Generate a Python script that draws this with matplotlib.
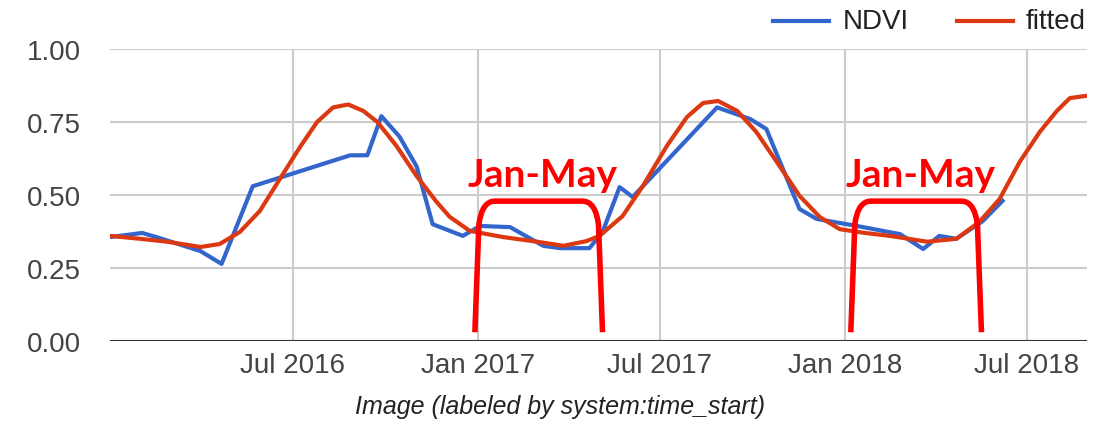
import numpy as np
import pandas as pd
import matplotlib
matplotlib.use("Agg")
import matplotlib.pyplot as plt
import matplotlib.dates as mdates
from matplotlib.path import Path
from matplotlib.patches import PathPatch
from matplotlib.lines import Line2D

# observed NDVI (cloud-free images only)
ndvi_dates = ["2016-01-01", "2016-02-02", "2016-02-17", "2016-03-31", "2016-04-21",
              "2016-05-22", "2016-08-27", "2016-09-13", "2016-09-27", "2016-10-15",
              "2016-11-01", "2016-11-17", "2016-12-17", "2017-01-03", "2017-02-02",
              "2017-03-07", "2017-03-24", "2017-04-22", "2017-05-05", "2017-05-22",
              "2017-06-04", "2017-08-27", "2017-09-29", "2017-10-15", "2017-11-17",
              "2017-12-04", "2018-01-13", "2018-02-25", "2018-03-20", "2018-04-05",
              "2018-04-22", "2018-05-18", "2018-06-07"]
ndvi_values = [0.356, 0.370, 0.355, 0.308, 0.264,
               0.530, 0.636, 0.636, 0.770, 0.700,
               0.598, 0.400, 0.360, 0.394, 0.390,
               0.326, 0.318, 0.318, 0.373, 0.527,
               0.493, 0.800, 0.760, 0.726, 0.452,
               0.418, 0.394, 0.366, 0.315, 0.360,
               0.350, 0.410, 0.480]

# harmonic fit
fit_dates = ["2016-01-01", "2016-01-31", "2016-02-27", "2016-03-31", "2016-04-19",
             "2016-05-09", "2016-05-29", "2016-06-18", "2016-07-08", "2016-07-25",
             "2016-08-10", "2016-08-25", "2016-09-09", "2016-09-23", "2016-10-12",
             "2016-11-01", "2016-11-21", "2016-12-04", "2016-12-24", "2017-01-26",
             "2017-03-01", "2017-03-27", "2017-04-19", "2017-05-02", "2017-05-25",
             "2017-06-14", "2017-07-08", "2017-07-28", "2017-08-13", "2017-08-28",
             "2017-09-16", "2017-10-05", "2017-10-28", "2017-11-17", "2017-12-07",
             "2017-12-27", "2018-01-21", "2018-02-15", "2018-03-24", "2018-04-22",
             "2018-05-15", "2018-06-04", "2018-06-24", "2018-07-14", "2018-07-31",
             "2018-08-13", "2018-08-28"]
fit_values = [0.360, 0.350, 0.340, 0.322, 0.332,
              0.373, 0.445, 0.555, 0.664, 0.750,
              0.800, 0.810, 0.788, 0.750, 0.668,
              0.565, 0.476, 0.425, 0.377, 0.356,
              0.340, 0.326, 0.342, 0.360, 0.428,
              0.530, 0.668, 0.767, 0.815, 0.822,
              0.788, 0.716, 0.600, 0.497, 0.425,
              0.383, 0.370, 0.360, 0.340, 0.350,
              0.408, 0.486, 0.613, 0.716, 0.788,
              0.832, 0.839]

x_ticks = ["2016-07-01", "2017-01-01", "2017-07-01", "2018-01-01", "2018-07-01"]
y_ticks = [0.0, 0.25, 0.5, 0.75, 1.0]
jan_may_spans = [("2016-12-29", "2017-05-05"), ("2018-01-07", "2018-05-17")]

BLUE = "#3366cc"
RED = "#dc3912"

plt.rcParams["font.family"] = ["Liberation Sans", "DejaVu Sans"]

fig = plt.figure(figsize=(11.14, 4.31), dpi=100)
ax = fig.add_axes([110 / 1114, 89 / 431, 977 / 1114, 292 / 431])

nd = mdates.date2num(pd.to_datetime(ndvi_dates))
fd = mdates.date2num(pd.to_datetime(fit_dates))
ax.plot(nd, ndvi_values, color=BLUE, lw=3, solid_joinstyle="round", zorder=3)
ax.plot(fd, fit_values, color=RED, lw=3, solid_joinstyle="round", zorder=4)

ax.set_xlim(mdates.date2num(pd.Timestamp("2016-01-01")),
            mdates.date2num(pd.Timestamp("2018-08-30")))
ax.set_ylim(0, 1.0)

xt = mdates.date2num(pd.to_datetime(x_ticks))
ax.set_xticks(xt)
ax.set_xticklabels([pd.Timestamp(d).strftime("%b %Y") for d in x_ticks])
ax.set_yticks(y_ticks)
ax.set_yticklabels(["%.2f" % v for v in y_ticks])
ax.tick_params(axis="both", length=0, labelsize=20, labelcolor="#444444")
ax.tick_params(axis="y", pad=21)
ax.tick_params(axis="x", pad=8)

for v in y_ticks[1:]:
    ax.axhline(v, color="#cccccc", lw=1.5, zorder=1)
for v in xt:
    ax.axvline(v, color="#cccccc", lw=1.5, zorder=1)
ax.axhline(0, color="#333333", lw=1.5, zorder=2)
for s in ax.spines.values():
    s.set_visible(False)

fig.text(560 / 1114, 1 - 407 / 431, "Image (labeled by system:time_start)",
         fontsize=18, style="italic", color="#222222", ha="center", va="center")

# legend
for x0, x1, xt0, label, c in [(773, 829, 843, "NDVI", BLUE), (957, 1013, 1026, "fitted", RED)]:
    fig.add_artist(Line2D([x0 / 1114, x1 / 1114], [1 - 22 / 431, 1 - 22 / 431],
                          color=c, lw=3, transform=fig.transFigure))
    fig.text(xt0 / 1114, 1 - 22 / 431, label, fontsize=20, color="#222222",
             ha="left", va="center")

# Jan-May brackets
for a, b in jan_may_spans:
    x0 = mdates.date2num(pd.Timestamp(a))
    x1 = mdates.date2num(pd.Timestamp(b))
    ybot, ytop = 0.03, 0.479
    verts = [(x0, ybot), (x0 + 4, ytop - 0.08), (x0 + 7, ytop), (x0 + 20, ytop),
             (x1 - 20, ytop), (x1 - 7, ytop), (x1 - 4, ytop - 0.08), (x1, ybot)]
    codes = [Path.MOVETO, Path.LINETO, Path.CURVE3, Path.CURVE3,
             Path.LINETO, Path.CURVE3, Path.CURVE3, Path.LINETO]
    ax.add_patch(PathPatch(Path(verts, codes), fill=False, edgecolor="#ff0000",
                           lw=4, capstyle="butt", joinstyle="round", zorder=5))
    ax.text((x0 + x1) / 2 + 4, ytop + 0.03, "Jan-May", color="#ff0000",
            fontsize=28, fontweight="bold", family=["Lato", "DejaVu Sans"],
            ha="center", va="bottom", zorder=6)

fig.savefig("out.png", dpi=100)
